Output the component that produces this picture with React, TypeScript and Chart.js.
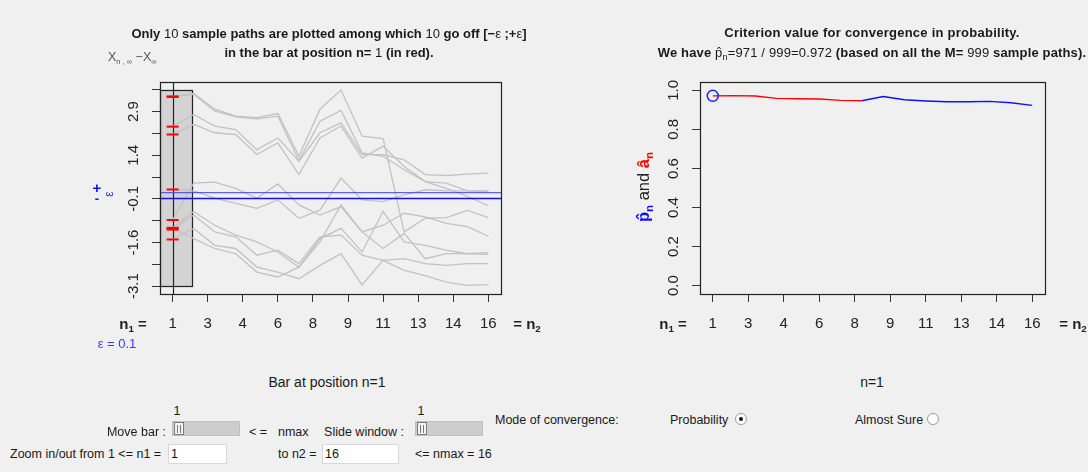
import React, { useEffect, useRef } from "react";
import { Chart, registerables } from "chart.js";

Chart.register(...registerables);
Chart.defaults.font.family = "'Liberation Sans', Arial, sans-serif";

// ---------- data ----------
const nValues = [1, 2, 3, 4, 5, 6, 7, 8, 9, 10, 11, 12, 13, 14, 15, 16];
const xTickPositions = [1, 2.6667, 4.3333, 6, 7.6667, 9.3333, 11, 12.6667, 14.3333, 16];
const xTickLabels = ["1", "3", "4", "6", "8", "9", "11", "13", "14", "16"];
const xRange = [0.4, 16.6];

const leftYTickPositions = [-3.115, -2.365, -1.615, -0.865, -0.115, 0.635, 1.385, 2.135, 2.885, 3.635];
const leftYTickLabels = ["-3.1", "", "-1.6", "", "-0.1", "", "1.4", "", "2.9", ""];
const leftYRange = [-3.385, 3.905];
const epsilon = 0.1;
const barPosition = 1;
const barSpan = [0.4, 1.92];

const path01 = [3.39, 3.51, 2.97, 2.73, 2.68, 2.82, 1.35, 2.97, 3.63, 2.04, 1.96, -1.25, -0.78, -0.76, -0.51, -0.76];
const path02 = [3.41, 3.48, 2.91, 2.71, 2.64, 2.73, 1.2, 2.56, 2.93, 1.47, 1.35, 0.89, 0.48, 0.43, 0.16, 0.14];
const path03 = [2.37, 2.79, 2.39, 2.27, 1.58, 1.98, 1.18, 2.16, 2.5, 1.41, 1.41, 1.23, 0.72, 0.69, 0.74, 0.77];
const path04 = [2.1, 2.45, 2.16, 2.1, 1.41, 1.81, 0.72, 1.98, 2.39, 1.29, 1.7, 1.0, 0.48, 0.25, -0.03, -0.35];
const path05 = [0.21, 0.16, -0.09, -0.27, -0.44, -0.15, -0.78, -0.5, 0.6, -0.15, -0.21, 0.02, 0.2, 0.16, 0.16, 0.16];
const path06 = [-0.84, 0.43, 0.46, 0.25, -0.09, 0.4, -0.32, -0.67, -0.38, -1.25, -1.02, -0.61, -0.73, -0.96, -1.07, -1.4];
const path07 = [-1.11, -0.55, -1.02, -1.36, -1.59, -1.94, -2.46, -1.48, -1.13, -1.94, -0.55, -1.59, -1.71, -1.88, -2.0, -1.96];
const path08 = [-1.17, -0.67, -1.25, -1.42, -2.05, -1.88, -2.34, -1.42, -1.36, -2.05, -2.23, -2.17, -2.34, -2.4, -2.34, -2.34];
const path09 = [-1.51, -1.13, -1.71, -1.82, -2.46, -2.63, -2.86, -2.4, -2.0, -3.07, -2.23, -2.57, -2.75, -2.98, -3.09, -3.06];
const path10 = [-1.13, -1.48, -1.82, -2.0, -2.63, -2.8, -2.46, -1.59, -0.32, -1.25, -1.82, -1.3, -2.17, -2.0, -2.0, -2.02];
const samplePaths = [path01, path02, path03, path04, path05, path06, path07, path08, path09, path10];

const rightYTickPositions = [0, 0.2, 0.4, 0.6, 0.8, 1.0];
const rightYTickLabels = ["0.0", "0.2", "0.4", "0.6", "0.8", "1.0"];
const rightYRange = [-0.043, 1.043];
const criterionRedN = [1, 2, 3, 4, 5, 6, 7, 8];
const criterionRed = [0.972, 0.973, 0.971, 0.959, 0.957, 0.956, 0.949, 0.947];
const criterionBlueN = [8, 9, 10, 11, 12, 13, 14, 15, 16];
const criterionBlue = [0.947, 0.969, 0.952, 0.946, 0.942, 0.942, 0.944, 0.937, 0.923];
const pHatAtBar = 0.972;

// ---------- helpers ----------
const AXIS_COLOR = "#333";
const TEXT_COLOR = "#222";

function xScaleConfig(axisHeight: number) {
  return {
    type: "linear",
    min: xRange[0],
    max: xRange[1],
    afterBuildTicks: (s: any) => {
      s.ticks = xTickPositions.map((v) => ({ value: v }));
    },
    afterFit: (s: any) => {
      s.height = axisHeight;
    },
    ticks: {
      callback: (_v: any, i: number) => xTickLabels[i],
      font: { size: 15 },
      color: TEXT_COLOR,
      padding: 13,
      autoSkip: false,
      maxRotation: 0,
      minRotation: 0,
    },
    grid: { drawOnChartArea: false, drawTicks: true, tickLength: 8, color: AXIS_COLOR, lineWidth: 1 },
    border: { display: false },
  };
}

function yScaleConfig(range: number[], positions: number[], axisWidth: number) {
  return {
    type: "linear",
    min: range[0],
    max: range[1],
    afterBuildTicks: (s: any) => {
      s.ticks = positions.map((v) => ({ value: v }));
    },
    afterFit: (s: any) => {
      s.width = axisWidth;
    },
    ticks: { display: false },
    grid: { drawOnChartArea: false, drawTicks: true, tickLength: 8, color: AXIS_COLOR, lineWidth: 1 },
    border: { display: false },
  };
}

function rotatedYLabels(positions: number[], labels: string[]) {
  return {
    id: "rotatedYLabels",
    afterDraw(chart: any) {
      const { ctx, chartArea } = chart;
      const y = chart.scales.y;
      ctx.save();
      ctx.font = "15px 'Liberation Sans', Arial, sans-serif";
      ctx.fillStyle = TEXT_COLOR;
      ctx.textAlign = "center";
      ctx.textBaseline = "middle";
      positions.forEach((v, i) => {
        if (!labels[i]) return;
        const py = y.getPixelForValue(v);
        ctx.save();
        ctx.translate(chartArea.left - 26, py);
        ctx.rotate(-Math.PI / 2);
        ctx.fillText(labels[i], 0, 0);
        ctx.restore();
      });
      ctx.restore();
    },
  };
}

const boxPlugin = {
  id: "box",
  afterDraw(chart: any) {
    const { ctx, chartArea } = chart;
    ctx.save();
    ctx.strokeStyle = "#222";
    ctx.lineWidth = 1.2;
    ctx.strokeRect(
      Math.round(chartArea.left) + 0.5,
      Math.round(chartArea.top) + 0.5,
      Math.round(chartArea.right - chartArea.left),
      Math.round(chartArea.bottom - chartArea.top)
    );
    ctx.restore();
  },
};

const barPlugin = {
  id: "bar",
  beforeDatasetsDraw(chart: any) {
    const { ctx, chartArea } = chart;
    const x = chart.scales.x;
    const y = chart.scales.y;
    const x0 = x.getPixelForValue(barSpan[0]);
    const x1 = x.getPixelForValue(barSpan[1]);
    const y0 = y.getPixelForValue(leftYTickPositions[leftYTickPositions.length - 1]);
    const y1 = y.getPixelForValue(leftYTickPositions[0]);
    ctx.save();
    ctx.fillStyle = "#d3d3d3";
    ctx.fillRect(x0, y0, x1 - x0, y1 - y0);
    ctx.strokeStyle = "#222";
    ctx.lineWidth = 1.2;
    ctx.strokeRect(Math.round(x0) + 0.5, Math.round(y0) + 0.5, Math.round(x1 - x0), Math.round(y1 - y0));
    const xb = Math.round(x.getPixelForValue(barPosition)) + 0.5;
    ctx.beginPath();
    ctx.moveTo(xb, chartArea.top);
    ctx.lineTo(xb, chartArea.bottom);
    ctx.lineWidth = 1.2;
    ctx.stroke();
    ctx.restore();
  },
  afterDatasetsDraw(chart: any) {
    const { ctx, chartArea } = chart;
    const y = chart.scales.y;
    ctx.save();
    [
      { v: epsilon, c: "rgba(60,60,255,0.8)", w: 1.3 },
      { v: -epsilon, c: "#1010ff", w: 1.6 },
    ].forEach((l) => {
      const py = y.getPixelForValue(l.v);
      ctx.strokeStyle = l.c;
      ctx.lineWidth = l.w;
      ctx.beginPath();
      ctx.moveTo(chartArea.left, py);
      ctx.lineTo(chartArea.right, py);
      ctx.stroke();
    });
    ctx.restore();
  },
};

function toXY(xs: number[], ys: number[]) {
  return ys.map((v, i) => ({ x: xs[i], y: v }));
}

// ---------- charts ----------
function LeftChart() {
  const ref = useRef<HTMLCanvasElement>(null);
  useEffect(() => {
    const pathSets = samplePaths.map((p) => ({
      data: toXY(nValues, p),
      borderColor: "#c2c2c2",
      borderWidth: 1.3,
      pointRadius: 0,
      tension: 0,
      fill: false,
    }));
    const redMarks = {
      data: samplePaths.map((p) => ({ x: barPosition, y: p[nValues.indexOf(barPosition)] })),
      showLine: false,
      pointStyle: "line",
      pointRadius: 6,
      pointBorderColor: "#ff0000",
      pointBorderWidth: 2,
      borderColor: "#ff0000",
    };
    const chart = new Chart(ref.current as HTMLCanvasElement, {
      type: "line",
      data: { datasets: [redMarks as any, ...pathSets] },
      options: {
        responsive: false,
        animation: false,
        layout: { padding: { top: 82, right: 59, left: 0, bottom: 0 } },
        plugins: { legend: { display: false }, tooltip: { enabled: false } },
        scales: {
          x: xScaleConfig(66) as any,
          y: yScaleConfig(leftYRange, leftYTickPositions, 160) as any,
        },
      },
      plugins: [barPlugin, boxPlugin, rotatedYLabels(leftYTickPositions, leftYTickLabels)],
    });
    return () => chart.destroy();
  }, []);
  return <canvas ref={ref} width={560} height={360} style={{ position: "absolute", left: 0, top: 0 }} />;
}

function RightChart() {
  const ref = useRef<HTMLCanvasElement>(null);
  useEffect(() => {
    const chart = new Chart(ref.current as HTMLCanvasElement, {
      type: "line",
      data: {
        datasets: [
          {
            data: [{ x: barPosition, y: pHatAtBar }],
            showLine: false,
            pointRadius: 5.5,
            pointBorderColor: "#2020ff",
            pointBackgroundColor: "rgba(0,0,0,0)",
            pointBorderWidth: 1.5,
          } as any,
          {
            data: toXY(criterionRedN, criterionRed),
            borderColor: "#ff0000",
            borderWidth: 1.4,
            pointRadius: 0,
            tension: 0,
          },
          {
            data: toXY(criterionBlueN, criterionBlue),
            borderColor: "#1010ff",
            borderWidth: 1.4,
            pointRadius: 0,
            tension: 0,
          },
        ],
      },
      options: {
        responsive: false,
        animation: false,
        layout: { padding: { top: 82, right: 43, left: 0, bottom: 0 } },
        plugins: { legend: { display: false }, tooltip: { enabled: false } },
        scales: {
          x: xScaleConfig(66) as any,
          y: yScaleConfig(rightYRange, rightYTickPositions, 140) as any,
        },
      },
      plugins: [boxPlugin, rotatedYLabels(rightYTickPositions, rightYTickLabels)],
    });
    return () => chart.destroy();
  }, []);
  return <canvas ref={ref} width={528} height={360} style={{ position: "absolute", left: 560, top: 0 }} />;
}

// ---------- text & widgets ----------
type TxtProps = {
  x: number;
  y: number;
  anchor?: "left" | "center" | "right";
  style?: React.CSSProperties;
  children: React.ReactNode;
};
function Txt({ x, y, anchor = "center", style, children }: TxtProps) {
  const tx = anchor === "left" ? "0" : anchor === "center" ? "-50%" : "-100%";
  return (
    <div
      style={{
        position: "absolute",
        left: x,
        top: y,
        transform: `translate(${tx},-50%)`,
        whiteSpace: "nowrap",
        lineHeight: 1,
        color: TEXT_COLOR,
        ...style,
      }}
    >
      {children}
    </div>
  );
}

const Sub = ({ children, size = "0.7em" }: { children: React.ReactNode; size?: string }) => (
  <span style={{ fontSize: size, position: "relative", top: "0.35em" }}>{children}</span>
);

const Norm = ({ children }: { children: React.ReactNode }) => <span style={{ fontWeight: "normal" }}>{children}</span>;

function Slider({ x, y, w }: { x: number; y: number; w: number }) {
  return (
    <div style={{ position: "absolute", left: x, top: y, width: w, height: 15, background: "#cdcdcd", border: "1px solid #c0c0c0", boxSizing: "border-box" }}>
      <div style={{ position: "absolute", left: 1, top: 0, width: 10, height: 13, background: "#f4f4f4", border: "1px solid #7a7a7a", boxSizing: "border-box" }}>
        <div style={{ position: "absolute", left: 2, top: 2, width: 1, height: 8, background: "#777" }} />
        <div style={{ position: "absolute", left: 5, top: 2, width: 1, height: 8, background: "#777" }} />
      </div>
    </div>
  );
}

function Input({ x, y, w, value }: { x: number; y: number; w: number; value: string }) {
  return (
    <div style={{ position: "absolute", left: x, top: y, width: w, height: 20, background: "#fff", border: "1px solid #d8d8d8", boxSizing: "border-box", fontSize: 12.5, lineHeight: "18px", paddingLeft: 2, color: "#111" }}>
      {value}
    </div>
  );
}

function Radio({ x, y, checked }: { x: number; y: number; checked: boolean }) {
  return (
    <div style={{ position: "absolute", left: x - 6, top: y - 6, width: 12, height: 12, borderRadius: "50%", background: "#fff", border: "1px solid #9a9a9a", boxSizing: "border-box" }}>
      {checked && <div style={{ position: "absolute", left: 3, top: 3, width: 4, height: 4, borderRadius: "50%", background: "#111" }} />}
    </div>
  );
}

export default function App() {
  const widget: React.CSSProperties = { fontSize: 12.5, color: "#1a1a1a" };
  const title: React.CSSProperties = { fontSize: 13, fontWeight: "bold", color: "#1a1a1a" };
  return (
    <div
      style={{
        position: "fixed",
        left: 0,
        top: 0,
        width: 1088,
        height: 472,
        background: "#f0f0f0",
        overflow: "hidden",
        fontFamily: "'Liberation Sans', Arial, sans-serif",
      }}
    >
      <LeftChart />
      <RightChart />

      {/* left chart annotations */}
      <Txt x={329} y={33} style={title}>
        Only <Norm>10</Norm> sample paths are plotted among which <Norm>10</Norm> go off [−<Norm>ε</Norm> ;+<Norm>ε</Norm>]
      </Txt>
      <Txt x={329} y={52} style={title}>
        in the bar at position n= <Norm>1</Norm> (in red).
      </Txt>
      <Txt x={108} y={57} anchor="left" style={{ fontSize: 12.5, color: "#555" }}>
        X<Sub size="0.6em">n , ∞</Sub> −X<Sub size="0.6em">∞</Sub>
      </Txt>
      <Txt x={97} y={187} style={{ fontSize: 15, fontWeight: "bold", color: "#1010ff" }}>+</Txt>
      <Txt x={97} y={198} style={{ fontSize: 13, fontWeight: "bold", color: "#1010ff" }}>-</Txt>
      <Txt x={109} y={194} style={{ fontSize: 12, color: "#3030ff", transform: "translate(-50%,-50%) rotate(-90deg)" }}>
        ε
      </Txt>
      <Txt x={133} y={323} style={{ fontSize: 15, fontWeight: "bold" }}>
        n<Sub size="0.65em">1</Sub> =
      </Txt>
      <Txt x={527} y={323} style={{ fontSize: 15, fontWeight: "bold" }}>
        = n<Sub size="0.65em">2</Sub>
      </Txt>
      <Txt x={117} y={343} style={{ fontSize: 13, color: "#3a3aff" }}>
        ε = 0.1
      </Txt>

      {/* right chart annotations */}
      <Txt x={872} y={32} style={{ ...title, letterSpacing: 0.25 }}>
        Criterion value for convergence in probability.
      </Txt>
      <Txt x={872} y={53} style={{ ...title, letterSpacing: 0.15 }}>
        We have <Norm>{" p\u0302"}<Sub>n</Sub>=971 / 999=0.972</Norm> (based on all the M= <Norm>999</Norm> sample paths).
      </Txt>
      <Txt x={643} y={187} style={{ fontSize: 16.5, transform: "translate(-50%,-50%) rotate(-90deg)" }}>
        <span style={{ color: "#1010ff", fontWeight: "bold" }}>
          {"p\u0302"}
          <Sub>n</Sub>
        </span>{" "}
        and{" "}
        <span style={{ color: "#ff0000", fontWeight: "bold" }}>
          {"a\u0302"}
          <Sub>n</Sub>
        </span>
      </Txt>
      <Txt x={673} y={323} style={{ fontSize: 15, fontWeight: "bold" }}>
        n<Sub size="0.65em">1</Sub> =
      </Txt>
      <Txt x={1073} y={323} style={{ fontSize: 15, fontWeight: "bold" }}>
        = n<Sub size="0.65em">2</Sub>
      </Txt>

      {/* bottom widgets */}
      <Txt x={327} y={382} style={{ fontSize: 14, color: "#1a1a1a" }}>
        Bar at position n=1
      </Txt>
      <Txt x={872} y={382} style={{ fontSize: 14, color: "#1a1a1a" }}>
        n=1
      </Txt>

      <Txt x={177} y={411} style={widget}>1</Txt>
      <Txt x={166} y={432} anchor="right" style={widget}>Move bar :</Txt>
      <Slider x={172} y={421} w={68} />
      <Txt x={249} y={432} anchor="left" style={widget}>&lt; =</Txt>
      <Txt x={278} y={432} anchor="left" style={widget}>nmax</Txt>
      <Txt x={404} y={432} anchor="right" style={widget}>Slide window :</Txt>
      <Txt x={421} y={411} style={widget}>1</Txt>
      <Slider x={415} y={421} w={68} />
      <Txt x={495} y={420} anchor="left" style={widget}>Mode of convergence:</Txt>
      <Txt x={670} y={420} anchor="left" style={widget}>Probability</Txt>
      <Radio x={741} y={419} checked={true} />
      <Txt x={855} y={420} anchor="left" style={widget}>Almost Sure</Txt>
      <Radio x={933} y={419} checked={false} />

      <Txt x={10} y={454} anchor="left" style={widget}>Zoom in/out from 1 &lt;= n1 =</Txt>
      <Input x={168} y={444} w={59} value="1" />
      <Txt x={278} y={454} anchor="left" style={widget}>to n2 =</Txt>
      <Input x={322} y={444} w={77} value="16" />
      <Txt x={415} y={454} anchor="left" style={widget}>&lt;= nmax = 16</Txt>
    </div>
  );
}
